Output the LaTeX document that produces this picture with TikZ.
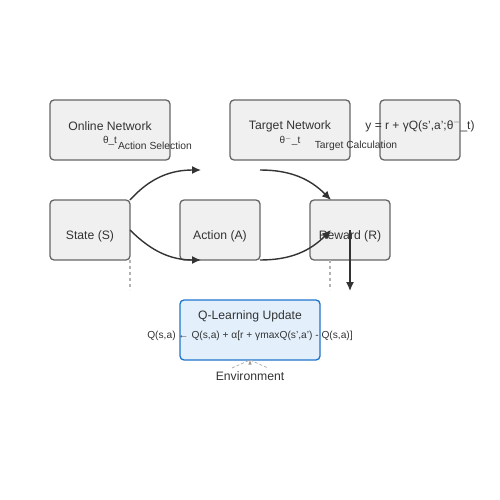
\documentclass[tikz,border=0pt]{standalone}
\usepackage{fontspec}
\setmainfont{Liberation Sans}
\usetikzlibrary{arrows,arrows.meta,positioning,calc}
\definecolor{boxfill}{HTML}{F0F0F0}
\definecolor{boxline}{HTML}{666666}
\definecolor{qfill}{HTML}{E3F0FC}
\definecolor{qline}{HTML}{1F74CC}
\definecolor{txt}{HTML}{333333}
\tikzstyle{box}=[rectangle,rounded corners=4pt,line width=1.3pt,draw=boxline,
fill=boxfill,text=txt,font=\fontsize{12}{14}\selectfont,inner sep=0pt,outer sep=0pt]
\tikzstyle{netbox}=[box,minimum width=120pt,minimum height=60pt]
\tikzstyle{smallbox}=[box,minimum width=80pt,minimum height=60pt]
\tikzstyle{qbox}=[box,draw=qline,fill=qfill,minimum width=140pt,minimum height=60pt]
\tikzstyle{lbl}=[text=txt,font=\fontsize{10}{12}\selectfont,inner sep=0pt]
\tikzstyle{flow}=[-{Latex[length=9pt,width=8pt]},line width=1.4pt,draw=txt]
\tikzstyle{envline}=[dashed,line width=1.3pt,draw=black!30]

\begin{document}
\begin{tikzpicture}[x=1pt,y=-1pt,>=latex]
            \useasboundingbox (0,0) rectangle (500,500);

            % NETWORK PART

            \node[netbox] (on) at (110,130) {};
            \node[netbox, right=60pt of on] (tn) {};
            \node[smallbox, right=30pt of tn] (tc) {};
            \node[lbl, font=\fontsize{12.2}{14}\selectfont] at (110,126) {Online Network};
            \node[lbl] (onp) at (110,141) {θ\_t};
            \node[lbl, font=\fontsize{12.2}{14}\selectfont] at (290,126) {Target Network};
            \node[lbl] (tnp) at (290,141) {θ$^{-}$\_t};
            \node[lbl, font=\fontsize{12}{14}\selectfont] (y) at (420,126) {y = r + γQ(s',a';θ$^{-}$\_t)};
            \node[lbl, font=\fontsize{10.3}{12}\selectfont] (as) at (155,146) {Action Selection};
            \node[lbl, font=\fontsize{10.3}{12}\selectfont] (tcl) at (356,146) {Target Calculation};

            % MDP PART

            \node[smallbox] (s) at (90,230) {};
            \node[smallbox, right=50pt of s] (a) {};
            \node[smallbox, right=50pt of a] (r) {};
            \node[lbl, font=\fontsize{12.2}{14}\selectfont] at (90,236) {State (S)};
            \node[lbl, font=\fontsize{12.2}{14}\selectfont] at (220,236) {Action (A)};
            \node[lbl, font=\fontsize{12.2}{14}\selectfont] at (350,236) {Reward (R)};

            \coordinate (sel) at (201,170);
            \coordinate (tgt) at (260,170);
            \coordinate (rtop) at ($(r.north west)+(21,0)$);
            \coordinate (rmid) at ($(r.west)+(21,0)$);
            \coordinate (sin) at (s.east);
            \coordinate (ain) at ($(a.south west)+(21,0)$);
            \coordinate (rdown) at ($(r.center)+(0,61)$);

            \draw[flow] (s.north east) to[out=48,in=180] (sel);
            \draw[flow] (sin) to[out=-45,in=180] (ain);
            \draw[flow] (tgt) to[out=0,in=135] (rtop);
            \draw[flow] (a.south east) to[out=0,in=-135] (rmid);
            \draw[flow] (r.center) -- (rdown);

            % UPDATE PART

            \node[qbox] (q) at (250,330) {};
            \node[lbl, font=\fontsize{12.2}{14}\selectfont] at (250,316) {Q-Learning Update};
            \node[lbl, font=\fontsize{10.2}{12}\selectfont] (rule) at (250,336)
                {Q(s,a) ← Q(s,a) + α[r + γmaxQ(s',a') - Q(s,a)]};
            \node[lbl, font=\fontsize{12.2}{14}\selectfont] (env) at (250,376) {Environment};

            \coordinate (sd) at ($(s.south east)+(0,30)$);
            \coordinate (rd) at ($(r.south west)+(20,30)$);
            \draw[envline] (s.south east) -- (sd);
            \draw[envline] ($(r.south west)+(20,0)$) -- (rd);

            \coordinate (el) at (232,368);
            \coordinate (er) at (268,368);
            \draw[envline,line width=0.8pt,dash pattern=on 3pt off 2pt] (el) -- (q.south) -- (er);
            \draw[draw=black!40,-latex,line width=0.6pt] ($(q.south)+(0,3)$) -- (q.south);

\end{tikzpicture}
\end{document}
